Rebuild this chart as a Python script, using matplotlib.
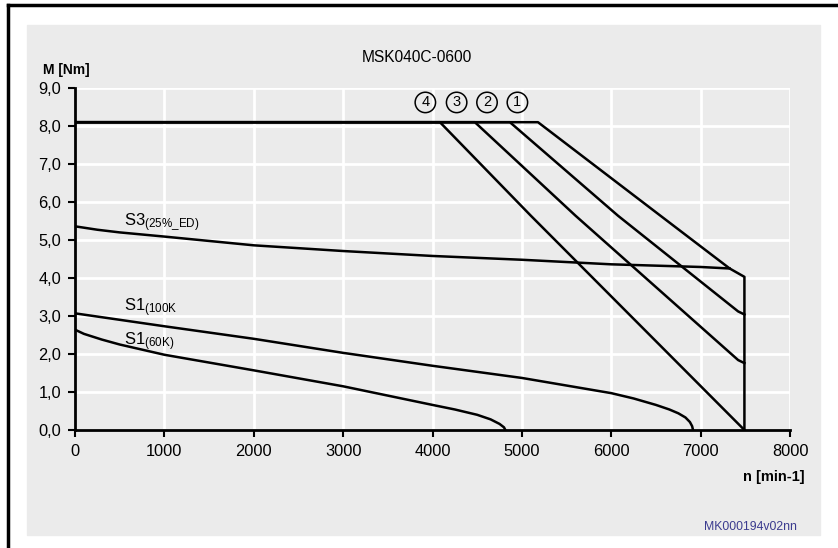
import matplotlib
matplotlib.use("Agg")
import matplotlib.pyplot as plt
from matplotlib.patches import Rectangle
from matplotlib.lines import Line2D
from matplotlib.ticker import FuncFormatter

plt.rcParams['font.family'] = ['Liberation Sans', 'DejaVu Sans']
plt.rcParams['mathtext.default'] = 'regular'

# speed [min-1] / torque [Nm]
line1_n = [0, 5180, 6550, 7325, 7490, 7490]
line1_m = [8.1, 8.1, 5.64, 4.25, 4.03, 0.0]
line2_n = [0, 4866, 6075, 7420, 7490]
line2_m = [8.1, 8.1, 5.64, 3.12, 3.04]
line3_n = [0, 4474, 5600, 7420, 7490]
line3_m = [8.1, 8.1, 5.64, 1.84, 1.76]
line4_n = [0, 4083, 5100, 7490]
line4_m = [8.1, 8.1, 5.64, 0.0]

s3_n = [0, 250, 500, 1000, 2000, 3000, 4000, 5000, 6000, 7000, 7325]
s3_m = [5.36, 5.27, 5.2, 5.09, 4.86, 4.71, 4.58, 4.48, 4.36, 4.29, 4.25]

s1_100_n = [0, 1000, 2000, 3000, 4000, 5000, 6000, 6250, 6500, 6650, 6750, 6830, 6880, 6905, 6915]
s1_100_m = [3.07, 2.73, 2.40, 2.03, 1.69, 1.37, 0.97, 0.83, 0.66, 0.54, 0.44, 0.33, 0.21, 0.1, 0.0]

s1_60_n = [0, 100, 300, 500, 1000, 2000, 3000, 4000, 4250, 4500, 4650, 4750, 4800, 4815]
s1_60_m = [2.64, 2.53, 2.38, 2.25, 1.98, 1.57, 1.15, 0.66, 0.54, 0.40, 0.28, 0.16, 0.07, 0.0]

marks = ['4', '3', '2', '1']
mark_n = [3920, 4270, 4610, 4950]

gray = '#ebebeb'
W, H = 838, 548

fig = plt.figure(figsize=(W / 100, H / 100), dpi=100)
fig.patches.append(Rectangle((27 / W, 1 - 535 / H), (820 - 27) / W, (535 - 25) / H,
                             transform=fig.transFigure, color=gray, zorder=-5))
fig.add_artist(Line2D([8 / W, 8 / W], [0, 1 - 5 / H], color='black', lw=2.5))
fig.add_artist(Line2D([8 / W, 1], [1 - 5 / H, 1 - 5 / H], color='black', lw=2.5))

ax = fig.add_axes([75 / W, 1 - 430 / H, (790 - 75) / W, (430 - 88) / H])
ax.set_facecolor(gray)

for n, m in [(line1_n, line1_m), (line2_n, line2_m), (line3_n, line3_m),
             (line4_n, line4_m), (s3_n, s3_m), (s1_100_n, s1_100_m), (s1_60_n, s1_60_m)]:
    ax.plot(n, m, color='black', lw=1.8, solid_joinstyle='round', zorder=3)

ax.set_xlim(0, 8000)
ax.set_ylim(0, 9)
ax.set_xticks(range(0, 8001, 1000))
ax.set_yticks([i * 1.0 for i in range(10)])
ax.yaxis.set_major_formatter(FuncFormatter(lambda v, p: f"{v:.1f}".replace('.', ',')))
ax.grid(color='white', lw=2)
ax.set_axisbelow(True)
for s in ['top', 'right']:
    ax.spines[s].set_visible(False)
for s in ['left', 'bottom']:
    ax.spines[s].set_linewidth(2)
ax.tick_params(direction='out', length=5, width=1.5, labelsize=11.8, colors='black', pad=5)

ax.text(550, 5.48, r'S3$_{(25\%\_ED)}$', fontsize=12, va='center', ha='left')
ax.text(550, 3.22, r'S1$_{(100K}$', fontsize=12, va='center', ha='left')
ax.text(550, 2.32, r'S1$_{(60K)}$', fontsize=12, va='center', ha='left')

for lab, n in zip(marks, mark_n):
    ax.text(n, 8.62, lab, fontsize=10.5, ha='center', va='center',
            bbox=dict(boxstyle='circle,pad=0.22', fc='none', ec='black', lw=1.1))

fig.text(417 / W, 1 - 58 / H, 'MSK040C-0600', fontsize=11.2, ha='center', va='center')
fig.text(43 / W, 1 - 70 / H, 'M [Nm]', fontsize=10, fontweight='bold', ha='left', va='center')
fig.text(805 / W, 1 - 477 / H, 'n [min-1]', fontsize=10.5, fontweight='bold', ha='right', va='center')
fig.text(797 / W, 1 - 527 / H, 'MK000194v02nn', fontsize=8.8, color='#3b3b8f', ha='right', va='center')

fig.savefig('out.png', dpi=100)
